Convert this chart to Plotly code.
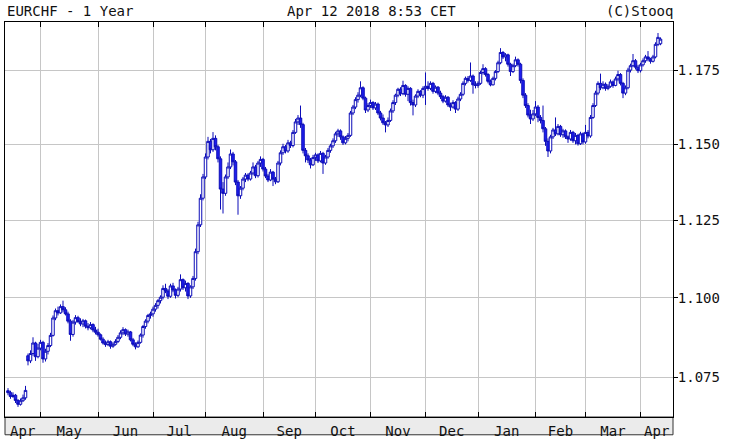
import math
import pandas as pd
import plotly.graph_objects as go

START, END = "2017-04-12", "2018-04-12"
TITLE_LEFT = "EURCHF - 1 Year"
TITLE_MID = "Apr 12 2018 8:53 CET"
TITLE_RIGHT = "(C)Stooq"
Y_TICKS = [1.075, 1.100, 1.125, 1.150, 1.175]
Y_TICK_TEXT = ["1.075", "1.100", "1.125", "1.150", "1.175"]

OPEN = [
    # Apr 2017
    1.0708,1.0702,1.0690,1.0694,1.0678,1.0666,1.0677,1.0686,1.0817,1.0801,1.0824,1.0857,1.0814,
    # May
    1.0841,1.0859,1.0807,1.0831,1.0849,1.0881,1.0936,1.0959,1.0952,1.0972,1.0962,1.0949,1.0926,1.0884,1.0923,1.0937,1.0925,1.0917,1.0927,1.0910,1.0905,1.0915,1.0898,
    # Jun
    1.0891,1.0883,1.0869,1.0857,1.0852,1.0861,1.0847,1.0853,1.0862,1.0875,1.0889,1.0899,1.0885,1.0892,1.0867,1.0853,1.0845,1.0859,1.0882,1.0909,1.0926,1.0944,
    # Jul
    1.0949,1.0964,1.0976,1.0991,1.1002,1.1030,1.1022,1.1005,1.1038,1.1025,1.1008,1.1028,1.1058,1.1032,1.1046,1.1006,1.1035,1.1062,1.1148,1.1235,1.1322,
    # Aug
    1.1392,1.1458,1.1510,1.1482,1.1520,1.1492,1.1452,1.1352,1.1338,1.1392,1.1425,1.1468,1.1442,1.1375,1.1330,1.1355,1.1385,1.1398,1.1385,1.1405,1.1425,1.1396,1.1438,
    # Sep
    1.1450,1.1418,1.1395,1.1382,1.1408,1.1385,1.1376,1.1438,1.1472,1.1492,1.1478,1.1505,1.1496,1.1540,1.1575,1.1588,1.1566,1.1480,1.1462,1.1448,1.1432,
    # Oct
    1.1456,1.1465,1.1445,1.1470,1.1438,1.1458,1.1480,1.1495,1.1512,1.1535,1.1545,1.1525,1.1505,1.1520,1.1530,1.1605,1.1625,1.1650,1.1665,1.1690,1.1655,1.1615,
    # Nov
    1.1630,1.1640,1.1622,1.1635,1.1605,1.1588,1.1572,1.1565,1.1580,1.1612,1.1640,1.1665,1.1685,1.1670,1.1698,1.1668,1.1688,1.1640,1.1632,1.1662,1.1678,1.1665,
    # Dec
    1.1688,1.1695,1.1688,1.1705,1.1678,1.1692,1.1672,1.1660,1.1645,1.1658,1.1632,1.1625,1.1640,1.1618,1.1652,1.1668,1.1705,1.1722,1.1715,1.1730,1.1700,
    # Jan 2018
    1.1698,1.1705,1.1742,1.1755,1.1735,1.1712,1.1700,1.1722,1.1745,1.1775,1.1810,1.1795,1.1802,1.1770,1.1745,1.1765,1.1785,1.1770,1.1715,1.1665,1.1630,1.1598,1.1585,
    # Feb
    1.1602,1.1625,1.1590,1.1580,1.1552,1.1510,1.1478,1.1525,1.1548,1.1535,1.1560,1.1532,1.1545,1.1525,1.1518,1.1540,1.1512,1.1530,1.1502,1.1535,
    # Mar
    1.1508,1.1540,1.1528,1.1590,1.1630,1.1672,1.1705,1.1690,1.1702,1.1688,1.1695,1.1710,1.1698,1.1720,1.1735,1.1705,1.1672,1.1690,1.1750,1.1765,1.1782,1.1760,
    # Apr
    1.1748,1.1768,1.1782,1.1795,1.1788,1.1780,1.1795,1.1838,1.1840,
]

HIGH = [
    1.0716,1.0708,1.0703,1.0698,1.0682,1.0684,1.0696,1.0723,1.0824,1.0834,1.0875,1.0861,1.0854,
    1.0867,1.0864,1.0839,1.0857,1.0889,1.0944,1.0966,1.0972,1.0979,1.0991,1.0970,1.0956,1.0932,1.0930,1.0945,1.0943,1.0935,1.0933,1.0931,1.0920,1.0923,1.0919,1.0908,
    1.0902,1.0887,1.0875,1.0865,1.0867,1.0865,1.0859,1.0869,1.0882,1.0897,1.0907,1.0903,1.0899,1.0895,1.0873,1.0859,1.0865,1.0887,1.0914,1.0932,1.0949,1.0956,
    1.0972,1.0983,1.0996,1.1008,1.1040,1.1045,1.1028,1.1045,1.1048,1.1030,1.1035,1.1075,1.1062,1.1055,1.1050,1.1040,1.1070,1.1158,1.1245,1.1335,1.1402,
    1.1470,1.1525,1.1518,1.1541,1.1530,1.1498,1.1460,1.1375,1.1400,1.1440,1.1483,1.1475,1.1448,1.1382,1.1362,1.1392,1.1405,1.1404,1.1412,1.1440,1.1432,1.1445,1.1460,
    1.1455,1.1425,1.1402,1.1418,1.1412,1.1392,1.1445,1.1480,1.1502,1.1498,1.1515,1.1512,1.1548,1.1585,1.1598,1.1630,1.1572,1.1488,1.1470,1.1455,1.1465,
    1.1472,1.1470,1.1478,1.1475,1.1465,1.1488,1.1502,1.1520,1.1542,1.1552,1.1550,1.1530,1.1528,1.1538,1.1612,1.1632,1.1658,1.1675,1.1712,1.1695,1.1660,1.1638,
    1.1650,1.1645,1.1642,1.1640,1.1612,1.1600,1.1578,1.1590,1.1620,1.1648,1.1670,1.1690,1.1692,1.1714,1.1702,1.1695,1.1692,1.1650,1.1668,1.1685,1.1682,1.1695,
    1.1742,1.1712,1.1712,1.1710,1.1698,1.1696,1.1680,1.1666,1.1665,1.1662,1.1640,1.1648,1.1645,1.1660,1.1675,1.1712,1.1728,1.1730,1.1776,1.1735,1.1712,
    1.1712,1.1748,1.1770,1.1760,1.1740,1.1718,1.1728,1.1750,1.1782,1.1825,1.1815,1.1808,1.1806,1.1775,1.1772,1.1796,1.1790,1.1775,1.1722,1.1672,1.1638,1.1616,1.1615,
    1.1645,1.1632,1.1598,1.1630,1.1558,1.1520,1.1532,1.1555,1.1590,1.1568,1.1565,1.1552,1.1550,1.1530,1.1548,1.1545,1.1538,1.1535,1.1542,1.1540,
    1.1565,1.1548,1.1598,1.1638,1.1680,1.1712,1.1738,1.1712,1.1708,1.1702,1.1718,1.1715,1.1728,1.1748,1.1740,1.1710,1.1698,1.1758,1.1772,1.1805,1.1788,1.1768,
    1.1775,1.1790,1.1802,1.1815,1.1792,1.1802,1.1845,1.1877,1.1862,
]

LOW = [
    1.0694,1.0683,1.0686,1.0670,1.0658,1.0662,1.0673,1.0680,1.0787,1.0794,1.0817,1.0801,1.0809,
    1.0834,1.0795,1.0799,1.0821,1.0844,1.0877,1.0929,1.0944,1.0949,1.0954,1.0944,1.0919,1.0864,1.0877,1.0915,1.0920,1.0910,1.0907,1.0903,1.0897,1.0900,1.0891,1.0884,
    1.0877,1.0865,1.0852,1.0845,1.0847,1.0839,1.0842,1.0849,1.0857,1.0869,1.0882,1.0879,1.0877,1.0862,1.0847,1.0837,1.0842,1.0855,1.0874,1.0902,1.0919,1.0934,
    1.0940,1.0956,1.0966,1.0982,1.0995,1.1015,1.0996,1.1000,1.1018,1.0998,1.1002,1.1020,1.1025,1.1020,1.0996,1.1000,1.1028,1.1055,1.1140,1.1228,1.1315,
    1.1385,1.1450,1.1470,1.1475,1.1480,1.1440,1.1285,1.1272,1.1330,1.1385,1.1418,1.1430,1.1365,1.1268,1.1320,1.1348,1.1375,1.1378,1.1380,1.1398,1.1388,1.1390,1.1425,
    1.1410,1.1388,1.1375,1.1378,1.1362,1.1368,1.1372,1.1430,1.1465,1.1470,1.1472,1.1488,1.1490,1.1535,1.1565,1.1555,1.1470,1.1440,1.1438,1.1420,1.1428,
    1.1445,1.1438,1.1440,1.1402,1.1432,1.1452,1.1472,1.1488,1.1505,1.1525,1.1515,1.1498,1.1500,1.1510,1.1525,1.1598,1.1618,1.1640,1.1658,1.1648,1.1605,1.1608,
    1.1622,1.1615,1.1615,1.1598,1.1580,1.1565,1.1540,1.1558,1.1575,1.1605,1.1632,1.1658,1.1662,1.1665,1.1660,1.1645,1.1630,1.1597,1.1625,1.1655,1.1658,1.1655,
    1.1632,1.1680,1.1682,1.1670,1.1672,1.1665,1.1652,1.1638,1.1640,1.1625,1.1612,1.1620,1.1605,1.1612,1.1645,1.1662,1.1698,1.1708,1.1710,1.1670,1.1688,
    1.1690,1.1700,1.1735,1.1728,1.1705,1.1695,1.1698,1.1715,1.1740,1.1770,1.1788,1.1780,1.1762,1.1730,1.1740,1.1760,1.1762,1.1705,1.1655,1.1622,1.1590,1.1568,1.1578,
    1.1595,1.1574,1.1570,1.1540,1.1495,1.1458,1.1470,1.1518,1.1528,1.1530,1.1525,1.1522,1.1518,1.1505,1.1512,1.1505,1.1500,1.1496,1.1498,1.1500,
    1.1502,1.1520,1.1522,1.1585,1.1625,1.1665,1.1682,1.1685,1.1680,1.1682,1.1690,1.1690,1.1695,1.1712,1.1698,1.1655,1.1665,1.1685,1.1742,1.1760,1.1752,1.1740,
    1.1742,1.1762,1.1775,1.1780,1.1772,1.1776,1.1790,1.1832,1.1835,
]

CLOSE = [
    1.0702,1.0690,1.0694,1.0678,1.0666,1.0677,1.0686,1.0709,1.0801,1.0824,1.0857,1.0814,1.0841,
    1.0859,1.0807,1.0831,1.0849,1.0881,1.0936,1.0959,1.0952,1.0972,1.0962,1.0949,1.0926,1.0884,1.0923,1.0937,1.0925,1.0917,1.0927,1.0910,1.0905,1.0915,1.0898,1.0891,
    1.0883,1.0869,1.0857,1.0852,1.0861,1.0847,1.0853,1.0862,1.0875,1.0889,1.0899,1.0885,1.0892,1.0867,1.0853,1.0845,1.0859,1.0882,1.0909,1.0926,1.0944,1.0949,
    1.0964,1.0976,1.0991,1.1002,1.1030,1.1022,1.1005,1.1038,1.1025,1.1008,1.1028,1.1058,1.1032,1.1046,1.1006,1.1035,1.1062,1.1148,1.1235,1.1322,1.1392,
    1.1458,1.1510,1.1482,1.1520,1.1492,1.1452,1.1352,1.1338,1.1392,1.1425,1.1468,1.1442,1.1375,1.1330,1.1355,1.1385,1.1398,1.1385,1.1405,1.1425,1.1396,1.1438,1.1450,
    1.1418,1.1395,1.1382,1.1408,1.1385,1.1376,1.1438,1.1472,1.1492,1.1478,1.1505,1.1496,1.1540,1.1575,1.1588,1.1566,1.1480,1.1462,1.1448,1.1432,1.1456,
    1.1465,1.1445,1.1470,1.1438,1.1458,1.1480,1.1495,1.1512,1.1535,1.1545,1.1525,1.1505,1.1520,1.1530,1.1605,1.1625,1.1650,1.1665,1.1690,1.1655,1.1615,1.1630,
    1.1640,1.1622,1.1635,1.1605,1.1588,1.1572,1.1565,1.1580,1.1612,1.1640,1.1665,1.1685,1.1670,1.1698,1.1668,1.1688,1.1640,1.1632,1.1662,1.1678,1.1665,1.1688,
    1.1695,1.1688,1.1705,1.1678,1.1692,1.1672,1.1660,1.1645,1.1658,1.1632,1.1625,1.1640,1.1618,1.1652,1.1668,1.1705,1.1722,1.1715,1.1730,1.1700,1.1698,
    1.1705,1.1742,1.1755,1.1735,1.1712,1.1700,1.1722,1.1745,1.1775,1.1810,1.1795,1.1802,1.1770,1.1745,1.1765,1.1785,1.1770,1.1715,1.1665,1.1630,1.1598,1.1585,1.1602,
    1.1625,1.1590,1.1580,1.1552,1.1510,1.1478,1.1525,1.1548,1.1535,1.1560,1.1532,1.1545,1.1525,1.1518,1.1540,1.1512,1.1530,1.1502,1.1535,1.1508,
    1.1540,1.1528,1.1590,1.1630,1.1672,1.1705,1.1690,1.1702,1.1688,1.1695,1.1710,1.1698,1.1720,1.1735,1.1705,1.1672,1.1690,1.1750,1.1765,1.1782,1.1760,1.1748,
    1.1768,1.1782,1.1795,1.1788,1.1780,1.1795,1.1838,1.1862,1.1856,
]

dates = pd.bdate_range(START, END)
assert len(dates) == len(OPEN) == len(HIGH) == len(LOW) == len(CLOSE), (len(dates), len(OPEN), len(HIGH), len(LOW), len(CLOSE))

# helper: position (in trading days from START) -> timestamp on the break-compressed axis
ext = pd.bdate_range("2017-04-03", "2018-05-31")
k0 = ext.get_loc(pd.Timestamp(START))


def at(p):
    f = math.floor(p)
    return ext[k0 + f] + pd.Timedelta(days=p - f)


X_LO, X_HI = -1.2, 266.0
months = dates.to_period("M")
first_idx = [i for i in range(len(dates)) if i == 0 or months[i] != months[i - 1]]
grid_vals = [dates[i] for i in first_idx[1:]]
bounds = [X_LO] + first_idx[1:] + [X_HI]
label_vals = [at((bounds[k] + bounds[k + 1]) / 2) for k in range(len(first_idx))]
label_text = [dates[i].strftime("%b") for i in first_idx]

FONT = dict(family="DejaVu Sans Mono", size=14, color="#111111")
GRID = "#c6c6c6"

fig = go.Figure(
    go.Candlestick(
        x=dates, open=OPEN, high=HIGH, low=LOW, close=CLOSE,
        increasing=dict(line=dict(color="#0c0cb8", width=1), fillcolor="#ffffff"),
        decreasing=dict(line=dict(color="#0c0cb8", width=1), fillcolor="#1e1ef0"),
        whiskerwidth=0, hoverinfo="skip", showlegend=False,
    )
)

fig.update_layout(
    width=730, height=443,
    margin=dict(l=4, r=57, t=22, b=21),
    paper_bgcolor="white", plot_bgcolor="white",
    showlegend=False, boxgap=0, boxgroupgap=0,
    xaxis=dict(
        type="date",
        range=[at(X_LO), at(X_HI)],
        rangebreaks=[dict(bounds=["sat", "mon"])],
        rangeslider=dict(visible=False),
        tickmode="array", tickvals=label_vals, ticktext=label_text,
        ticks="", ticklen=0, ticklabelstandoff=1,
        showgrid=False, zeroline=False,
        showline=True, linecolor="#000000", linewidth=1, mirror="ticks",
        tickfont=FONT,
        minor=dict(tickmode="array", tickvals=grid_vals, showgrid=True,
                   gridcolor=GRID, gridwidth=1, ticks="inside", ticklen=5,
                   tickcolor="#000000", tickwidth=1),
    ),
    yaxis=dict(
        type="log", side="right",
        range=[math.log10(1.06268), math.log10(1.19149)],
        tickmode="array", tickvals=Y_TICKS, ticktext=Y_TICK_TEXT,
        ticks="outside", ticklen=4, tickcolor="#000000", ticklabelstandoff=-3,
        showgrid=True, gridcolor=GRID, gridwidth=1, zeroline=False,
        showline=True, linecolor="#000000", linewidth=1, mirror=True,
        tickfont=FONT,
    ),
    shapes=[dict(type="rect", xref="paper", yref="paper", x0=0, x1=1,
                 y0=-0.045, y1=0, fillcolor="#ebebeb",
                 line=dict(color="#333333", width=1), layer="below")],
    annotations=[
        dict(text=TITLE_LEFT, xref="paper", yref="paper", x=0, y=1.0275,
             xanchor="left", yanchor="middle", showarrow=False, font=FONT),
        dict(text=TITLE_MID, xref="paper", yref="paper", x=0.548, y=1.0275,
             xanchor="center", yanchor="middle", showarrow=False, font=FONT),
        dict(text=TITLE_RIGHT, xref="paper", yref="paper", x=1.003, y=1.0275,
             xanchor="right", yanchor="middle", showarrow=False, font=FONT),
    ],
)

fig.write_html(
    "out.html",
    config={"displayModeBar": False, "staticPlot": True},
    post_script="document.body.style.margin='0';document.body.style.padding='0';",
)
